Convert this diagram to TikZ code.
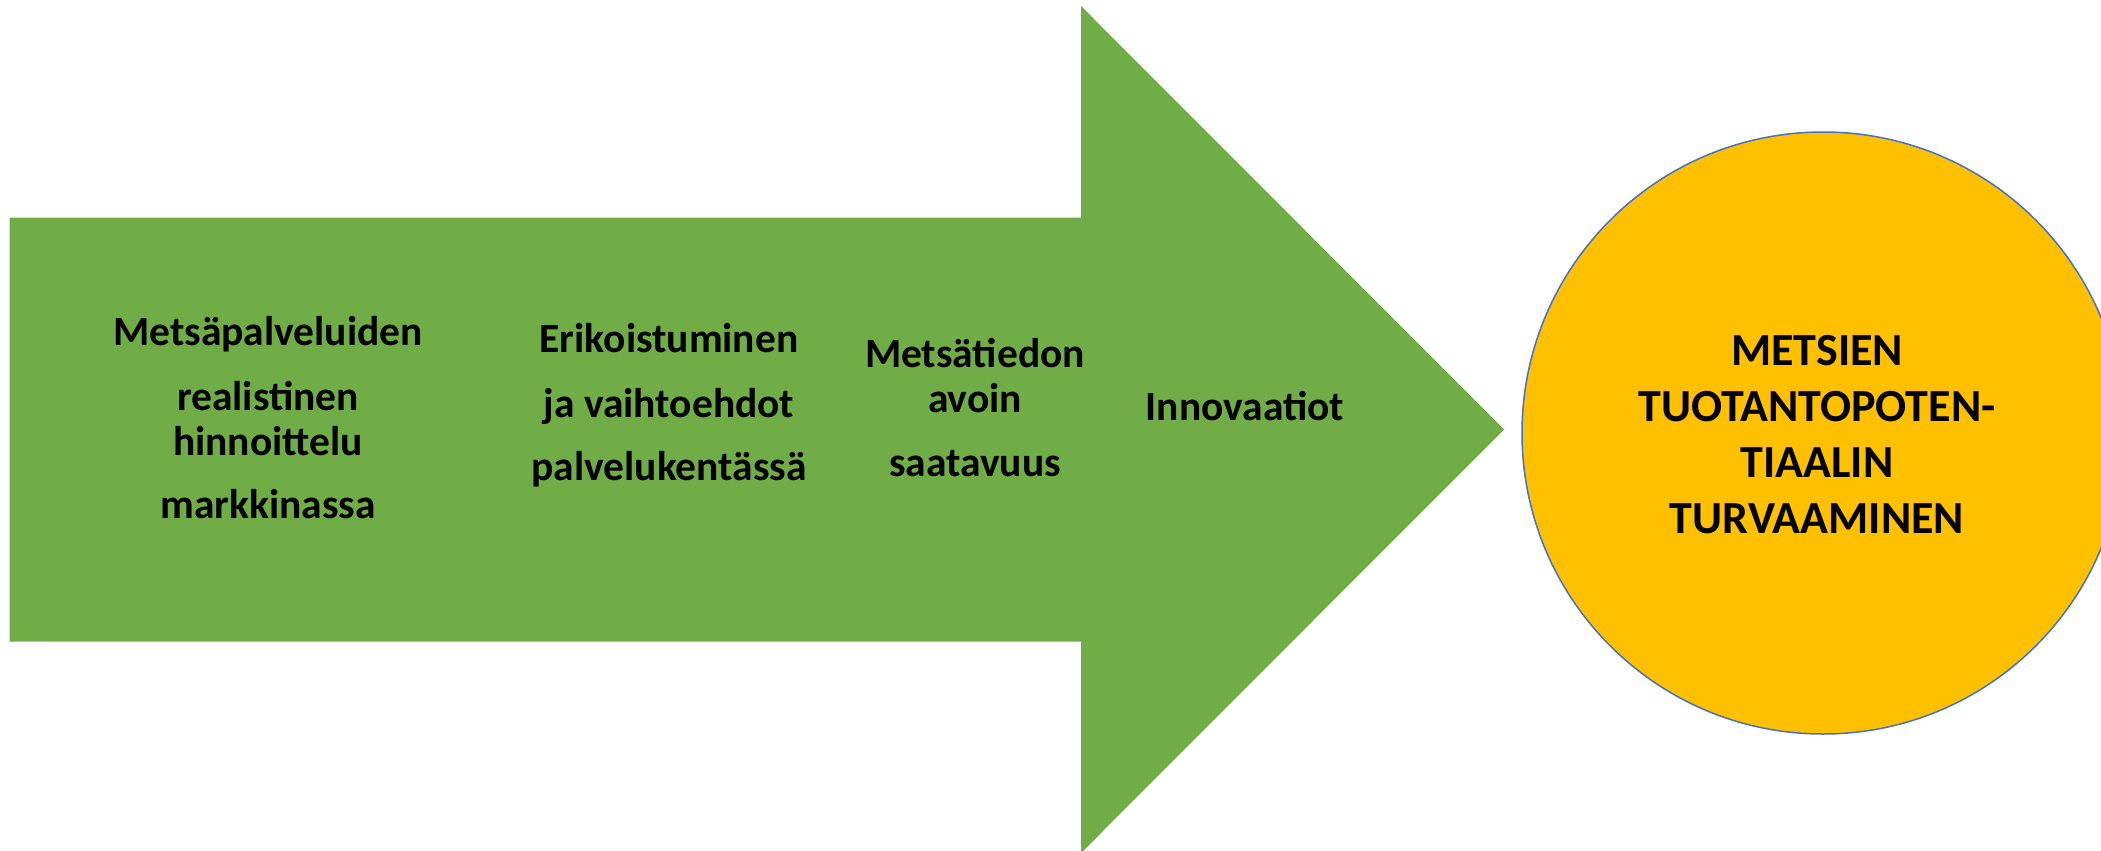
\documentclass[tikz,border=0pt]{standalone}
\usepackage{fontspec}
\setmainfont{Carlito}
\usetikzlibrary{positioning}

\definecolor{arrowgreen}{RGB}{112,173,71}
\definecolor{goalyellow}{RGB}{255,192,0}
\definecolor{rimblue}{RGB}{68,114,196}

\begin{document}
\begin{tikzpicture}[x=1pt,y=-1pt]
  \useasboundingbox (0,0) rectangle (2101,851);

  % Big arrow
  \fill[arrowgreen] (9.5,217.5) -- (1081,217.5) -- (1081,6) -- (1504,429.5)
    -- (1081,853) -- (1081,641.5) -- (9.5,641.5) -- cycle;

  % Goal circle
  \node[circle,draw=rimblue,line width=1.5pt,fill=goalyellow,minimum size=602pt,inner sep=0pt] (goal) at (1823,433) {};

  \begin{scope}[every node/.style={align=center,anchor=base,inner sep=0pt,font=\bfseries\fontsize{41.5}{45}\selectfont}]
    % Texts on the arrow (base = last line)
    \node (pricing) at (268,518) {Metsäpalveluiden\\[20pt] realistinen\\ hinnoittelu\\[18pt] markkinassa};
    \node (special) at (669,480) {Erikoistuminen\\[20pt] ja vaihtoehdot\\[18pt] palvelukentässä};
    \node (openinfo) at (975,476) {Metsätiedon\\ avoin\\[19pt] saatavuus};
    \node (innov) at (1245,420) {Innovaatiot};

    % Text in the circle
    \node[font=\bfseries\fontsize{46}{56}\selectfont] (goaltext) at (1817,533) {METSIEN\\ TUOTANTOPOTEN-\\ TIAALIN\\ TURVAAMINEN};
  \end{scope}
\end{tikzpicture}
\end{document}
